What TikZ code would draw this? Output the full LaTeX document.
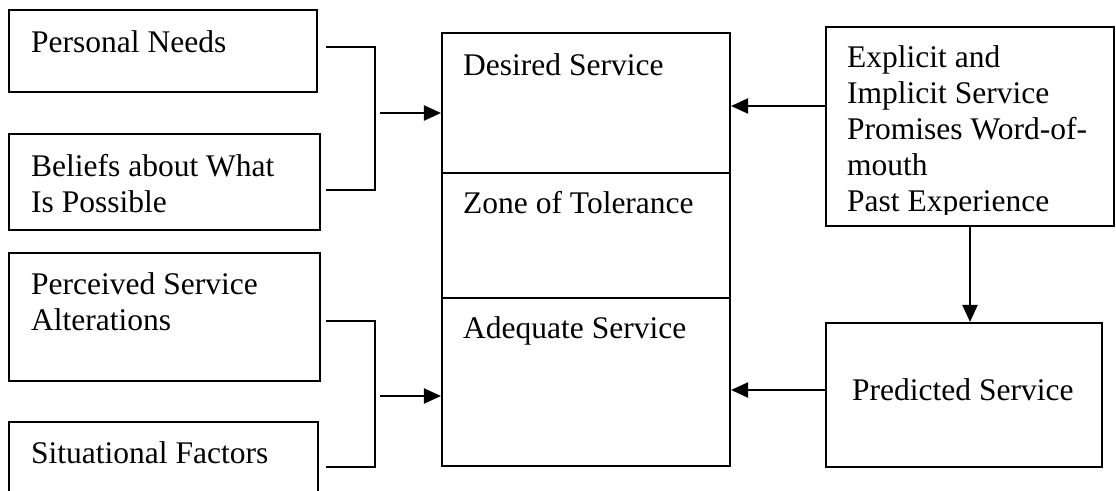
\documentclass[tikz,border=0pt]{standalone}
\usepackage{fontspec}
\setmainfont{Liberation Serif}
\usetikzlibrary{arrows.meta,calc}
\begin{document}
\begin{tikzpicture}[x=1pt,y=-1pt,
  box/.style={draw,line width=2.1pt,inner sep=0pt},
  lbl/.style={anchor=base west,inner sep=0pt,font=\fontsize{31.5}{36}\selectfont,align=left},
  link/.style={line width=2.1pt},
  arr/.style={line width=2.1pt,-{Triangle[length=17pt,width=15pt]}}]
\useasboundingbox (0,0) rectangle (1116,490);
\clip (0,0) rectangle (1116,490);
\fill[white] (0,0) rectangle (1116,490);

% left-hand boxes
\node[box,minimum width=308pt,minimum height=82pt]  (pn)  at (163,51)    {};
\node[box,minimum width=311pt,minimum height=96pt]  (bel) at (164.5,182) {};
\node[box,minimum width=311pt,minimum height=128pt] (per) at (164.5,317) {};
\node[box,minimum width=309pt,minimum height=88pt]  (sit) at (163.5,466) {};
% multi-line labels are placed by the baseline of their last line
\node[lbl] (tpn)  at (31,52)  {Personal Needs};
\node[lbl] (tbel) at (31,212) {Beliefs about What\\Is Possible};
\node[lbl] (tper) at (31,330) {Perceived Service\\Alterations};
\node[lbl] (tsit) at (31,463) {Situational Factors};

% central column of expectations
\node[box,minimum width=288pt,minimum height=140pt] (des) at (586,103)   {};
\node[box,minimum width=288pt,minimum height=125pt] (zon) at (586,235.5) {};
\node[box,minimum width=288pt,minimum height=168pt] (ade) at (586,382)   {};
\node[lbl] (tdes) at (463,75)  {Desired Service};
\node[lbl] (tzon) at (463,213) {Zone of Tolerance};
\node[lbl] (tade) at (463,338) {Adequate Service};

% right-hand boxes
\node[box,minimum width=288pt,minimum height=199pt] (exp) at (970,126.5) {};
\node[box,minimum width=276pt,minimum height=144pt] (pre) at (964,395)   {};
% the text frame of the upper box ends just under the last baseline
\coordinate (frame) at (1110,214);
\begin{scope}
  \clip (exp.north west) rectangle (frame);
  \node[lbl] (texp) at (847,211) {Explicit and\\Implicit Service\\Promises Word-of-\\mouth\\Past Experience};
\end{scope}
\node[lbl] (tpre) at (852,400) {Predicted Service};

% bracket joining the first pair of sources
\coordinate (a1) at (326,47);
\coordinate (a2) at (375,47);
\coordinate (a3) at (375,190);
\coordinate (a4) at (326,190);
\draw[link] (a1) -- (a2) -- (a3) -- (a4);
\coordinate (a5) at (380,113);
\draw[arr] (a5) -- (des.west |- a5);

% bracket joining the second pair of sources
\coordinate (b1) at (326,321);
\coordinate (b2) at (375,321);
\coordinate (b3) at (375,467);
\coordinate (b4) at (326,467);
\draw[link] (b1) -- (b2) -- (b3) -- (b4);
\coordinate (b5) at (380,396);
\draw[arr] (b5) -- (ade.west |- b5);

% arrows from the right-hand boxes
\coordinate (c1) at (826,106);
\draw[arr] (exp.west |- c1) -- (des.east |- c1);
\draw[arr] (exp.south) -- (exp.south |- pre.north);
\coordinate (c2) at (826,390);
\draw[arr] (pre.west |- c2) -- (ade.east |- c2);
\end{tikzpicture}
\end{document}
